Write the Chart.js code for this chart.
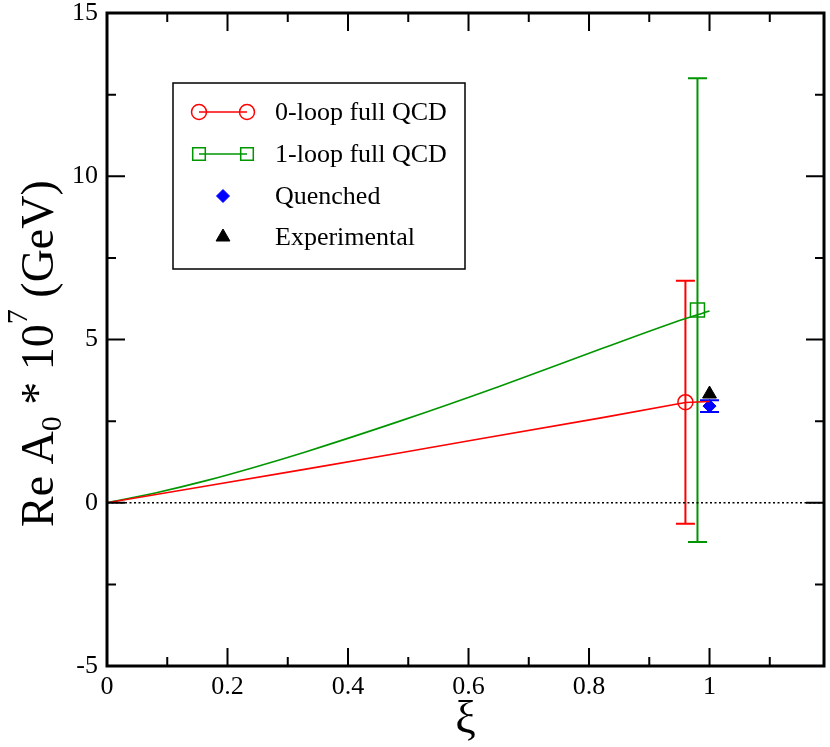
<!DOCTYPE html>
<html>
<head>
<meta charset="utf-8">
<script src="https://cdn.jsdelivr.net/npm/chart.js@4.4.0/dist/chart.umd.min.js"></script>
<style>
  html, body { margin: 0; padding: 0; background: #fff; }
  #wrap { width: 830px; height: 747px; }
</style>
</head>
<body>
<div id="wrap"><canvas id="chart" width="830" height="747"></canvas></div>
<script>
// axis range
const xMin = 0, xMax = 1.19;
const yMin = -5, yMax = 15;

// curves
const xiRed = [0, 0.16, 0.33, 0.49, 0.62, 0.82, 0.96, 1.0];
const reRed = [0, 0.5, 1.03, 1.54, 1.96, 2.6, 3.07, 3.1];
const xiGreen = [0, 0.08, 0.163, 0.245, 0.328, 0.486, 0.652, 0.818, 0.958, 1.0];
const reGreen = [0, 0.30, 0.67, 1.09, 1.55, 2.5, 3.57, 4.70, 5.63, 5.87];

// zero reference line
const zeroXi = [0, 1.19];
const zeroRe = [0, 0];

// points with error bars
const seriesNames = ['0-loop full QCD', '1-loop full QCD', 'Quenched', 'Experimental'];
const pointXi = [0.96, 0.98, 1.0, 1.0];
const pointRe = [3.08, 5.9, 2.96, 3.33];
const errLow = [-0.64, -1.2, 2.78, null];
const errHigh = [6.8, 13.0, 3.14, null];

const RED = '#ff0000';
const GREEN = 'rgb(0,150,0)';
const BLUE = '#0000ff';
const BLACK = '#000000';
const serif = "'Liberation Serif', 'DejaVu Serif', serif";

const toXY = (xs, ys) => xs.map((x, i) => ({ x: x, y: ys[i] }));
const fmt = v => String(Math.round(v * 100) / 100);

const markers = [
    { pointStyle: 'circle', radius: 7.5, color: RED, fill: 'rgba(0,0,0,0)', borderWidth: 1.5 },
    { pointStyle: 'rect', radius: 9.9, color: GREEN, fill: 'rgba(0,0,0,0)', borderWidth: 1.5 },
    { pointStyle: 'rectRot', radius: 6.5, color: BLUE, fill: BLUE, borderWidth: 1 },
    { pointStyle: 'triangle', radius: 8, color: BLACK, fill: BLACK, borderWidth: 1 }
];

const pointSets = seriesNames.map((name, i) => ({
    label: name,
    data: [{ x: pointXi[i], y: pointRe[i] }],
    showLine: false,
    pointStyle: markers[i].pointStyle,
    pointRadius: markers[i].radius,
    pointBorderWidth: markers[i].borderWidth,
    borderColor: markers[i].color,
    backgroundColor: markers[i].fill
}));

const frame = {
    id: 'frame',
    beforeDatasetsDraw(chart) {
        // error bars, under the markers
        const ctx = chart.ctx, xs = chart.scales.x, ys = chart.scales.y;
        ctx.save();
        pointSets.forEach((ds, i) => {
            if (errLow[i] === null) return;
            const px = xs.getPixelForValue(pointXi[i]);
            const lo = ys.getPixelForValue(errLow[i]);
            const hi = ys.getPixelForValue(errHigh[i]);
            const cap = 9.5;
            ctx.strokeStyle = markers[i].color;
            ctx.lineWidth = 2;
            ctx.beginPath();
            ctx.moveTo(px, lo); ctx.lineTo(px, hi);
            ctx.moveTo(px - cap, lo); ctx.lineTo(px + cap, lo);
            ctx.moveTo(px - cap, hi); ctx.lineTo(px + cap, hi);
            ctx.stroke();
        });
        ctx.restore();
    },
    afterDraw(chart) {
        const ctx = chart.ctx, a = chart.chartArea;
        const xs = chart.scales.x, ys = chart.scales.y;
        ctx.save();
        ctx.strokeStyle = BLACK;

        // inward ticks on all four sides
        ctx.lineWidth = 2;
        ctx.beginPath();
        xs.ticks.forEach((t, i) => {
            const p = xs.getPixelForValue(t.value);
            const len = i % 2 === 0 ? 18 : 9;
            ctx.moveTo(p, a.bottom); ctx.lineTo(p, a.bottom - len);
            ctx.moveTo(p, a.top); ctx.lineTo(p, a.top + len);
        });
        ys.ticks.forEach((t, i) => {
            const p = ys.getPixelForValue(t.value);
            const len = i % 2 === 0 ? 18 : 9;
            ctx.moveTo(a.left, p); ctx.lineTo(a.left + len, p);
            ctx.moveTo(a.right, p); ctx.lineTo(a.right - len, p);
        });
        ctx.stroke();

        // frame
        ctx.lineWidth = 3;
        ctx.strokeRect(a.left, a.top, a.right - a.left, a.bottom - a.top);

        // legend
        ctx.lineWidth = 1.5;
        ctx.strokeRect(173, 83, 292, 186);
        const rowY = [112, 154, 196, 237];
        ctx.font = '26px ' + serif;
        ctx.textBaseline = 'alphabetic';
        ctx.textAlign = 'left';
        seriesNames.forEach((name, i) => {
            const y = rowY[i];
            const m = markers[i];
            ctx.strokeStyle = m.color;
            ctx.fillStyle = m.fill;
            if (i < 2) {
                ctx.lineWidth = 1.6;
                ctx.beginPath();
                ctx.moveTo(199, y); ctx.lineTo(247, y);
                ctx.stroke();
                ctx.lineWidth = m.borderWidth;
                const r = m.radius * (i === 1 ? 0.9 : 1);
                Chart.helpers.drawPoint(ctx, { pointStyle: m.pointStyle, radius: r, rotation: 0, borderWidth: m.borderWidth }, 199, y);
                Chart.helpers.drawPoint(ctx, { pointStyle: m.pointStyle, radius: r, rotation: 0, borderWidth: m.borderWidth }, 247, y);
            } else {
                ctx.lineWidth = m.borderWidth;
                Chart.helpers.drawPoint(ctx, { pointStyle: m.pointStyle, radius: m.radius, rotation: 0, borderWidth: m.borderWidth }, 223, y);
            }
            ctx.fillStyle = BLACK;
            ctx.fillText(name, 275, y + 8);
        });

        // x title
        ctx.fillStyle = BLACK;
        ctx.textAlign = 'center';
        ctx.font = '46px ' + serif;
        ctx.fillText('\u03BE', (a.left + a.right) / 2, 733);

        // y title with subscript and superscript
        ctx.translate(53, 527);
        ctx.rotate(-Math.PI / 2);
        ctx.textAlign = 'left';
        const big = '46px ' + serif, small = '30px ' + serif;
        const parts = [
            { t: 'Re A', f: big, dy: 0 },
            { t: '0', f: small, dy: 8 },
            { t: ' * 10', f: big, dy: 0 },
            { t: '7', f: small, dy: -26 },
            { t: ' (GeV)', f: big, dy: 0 }
        ];
        let x = 0;
        parts.forEach(p => {
            ctx.font = p.f;
            ctx.fillText(p.t, x, p.dy);
            x += ctx.measureText(p.t).width;
        });
        ctx.restore();
    }
};

new Chart(document.getElementById('chart'), {
    type: 'scatter',
    data: {
        datasets: [
            {
                label: 'zero',
                data: toXY(zeroXi, zeroRe),
                showLine: true,
                borderColor: BLACK,
                borderWidth: 1.5,
                borderDash: [2, 2.5],
                pointRadius: 0
            },
            {
                label: 'red curve',
                data: toXY(xiRed, reRed),
                showLine: true,
                borderColor: RED,
                borderWidth: 1.6,
                pointRadius: 0,
                tension: 0
            },
            {
                label: 'green curve',
                data: toXY(xiGreen, reGreen),
                showLine: true,
                borderColor: GREEN,
                borderWidth: 1.6,
                pointRadius: 0,
                cubicInterpolationMode: 'monotone'
            },
            ...pointSets
        ]
    },
    options: {
        responsive: false,
        animation: false,
        layout: { autoPadding: false, padding: { top: 13, right: 6, left: 0, bottom: 0 } },
        plugins: { legend: { display: false }, tooltip: { enabled: false } },
        scales: {
            x: {
                type: 'linear',
                min: xMin,
                max: xMax,
                afterFit: s => { s.height = 81; s.paddingLeft = 0; s.paddingRight = 0; },
                grid: { display: false, drawTicks: false },
                border: { display: false },
                ticks: {
                    stepSize: 0.1,
                    includeBounds: false,
                    autoSkip: false,
                    maxRotation: 0,
                    padding: 8,
                    color: BLACK,
                    font: { family: serif, size: 26, lineHeight: 1 },
                    callback: (v, i) => i % 2 === 0 ? fmt(v) : ''
                }
            },
            y: {
                type: 'linear',
                min: yMin,
                max: yMax,
                afterFit: s => { s.width = 107; s.paddingTop = 0; s.paddingBottom = 0; },
                grid: { display: false, drawTicks: false },
                border: { display: false },
                ticks: {
                    stepSize: 2.5,
                    includeBounds: false,
                    autoSkip: false,
                    padding: 9,
                    color: BLACK,
                    font: { family: serif, size: 26, lineHeight: 1 },
                    callback: (v, i) => i % 2 === 0 ? fmt(v) : ''
                }
            }
        }
    },
    plugins: [frame]
});
</script>
</body>
</html>
